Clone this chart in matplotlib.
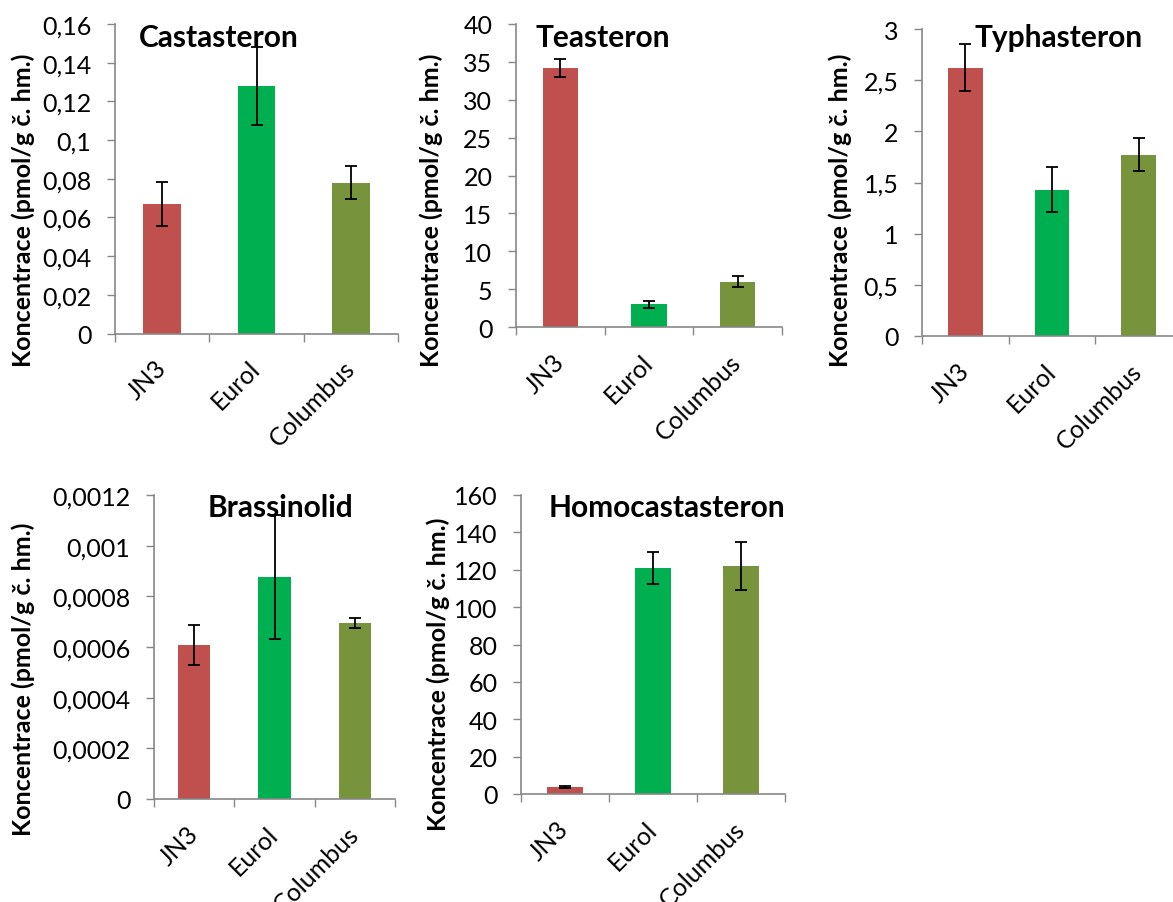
import numpy as np
import matplotlib
matplotlib.use("Agg")
import matplotlib.pyplot as plt
from matplotlib.ticker import FuncFormatter, MultipleLocator, FixedLocator

plt.rcParams['font.family'] = ['Lato', 'DejaVu Sans']

W, H = 1173, 903

cultivars = ["JN3", "Eurol", "Columbus"]
bar_colors = ["#C0504D", "#00B050", "#77933C"]
ylabel = "Koncentrace (pmol/g č. hm.)"

castasteron = [0.067, 0.128, 0.078]
castasteron_err = [0.0115, 0.020, 0.0085]
teasteron = [34.2, 3.0, 6.0]
teasteron_err = [1.2, 0.45, 0.7]
typhasteron = [2.62, 1.43, 1.77]
typhasteron_err = [0.23, 0.22, 0.16]
brassinolid = [0.000608, 0.000877, 0.000695]
brassinolid_err = [0.00008, 0.000245, 0.00002]
homocastasteron = [3.8, 121.0, 122.0]
homocastasteron_err = [0.5, 8.7, 13.0]

# name, values, errors, ymax, ystep
panels = [
    ("Castasteron", castasteron, castasteron_err, 0.16, 0.02),
    ("Teasteron", teasteron, teasteron_err, 40, 5),
    ("Typhasteron", typhasteron, typhasteron_err, 3, 0.5),
    ("Brassinolid", brassinolid, brassinolid_err, 0.0012, 0.0002),
    ("Homocastasteron", homocastasteron, homocastasteron_err, 160, 20),
]

# pixel layout: axes (left, top, right, bottom), title (x center, baseline), ylabel (right edge x, center y)
layout = [
    ((115, 25, 398, 334.5), (219, 47), (35, 210)),
    ((516, 25, 782, 328), (603, 47), (443, 210)),
    ((922, 30, 1182, 337), (1059, 47), (852, 210)),
    ((154, 496, 395, 800), (280, 517), (35, 679.5)),
    ((521, 496, 785, 795), (667, 517), (450, 674.5)),
]

axis_grey = "#878787"


def comma_fmt(v, pos):
    return ("%g" % v).replace(".", ",")


fig = plt.figure(figsize=(W / 100, H / 100), dpi=100)

for (name, vals, errs, ymax, ystep), (box, title_pos, lab_pos) in zip(panels, layout):
    x0, y0, x1, y1 = box
    ax = fig.add_axes([x0 / W, 1 - y1 / H, (x1 - x0) / W, (y1 - y0) / H])
    x = np.arange(len(cultivars))
    ax.bar(x, vals, width=0.4, color=bar_colors, zorder=2)
    ax.errorbar(x, vals, yerr=errs, fmt="none", ecolor="black",
                elinewidth=1.3, capsize=4.5, capthick=1.3, zorder=3)
    ax.set_xlim(-0.5, len(cultivars) - 0.5)
    ax.set_ylim(0, ymax)
    ax.yaxis.set_major_locator(MultipleLocator(ystep))
    ax.yaxis.set_major_formatter(FuncFormatter(comma_fmt))

    ax.set_xticks(x)
    ax.set_xticklabels(cultivars, rotation=45, ha="right", va="center",
                       rotation_mode="anchor", fontsize=18)
    ax.xaxis.set_minor_locator(FixedLocator(np.arange(-0.5, len(cultivars), 1.0)))
    ax.tick_params(axis="x", which="major", length=0, pad=22)
    ax.tick_params(axis="x", which="minor", length=6, width=1, color=axis_grey)
    ax.tick_params(axis="y", length=6, width=1, color=axis_grey, pad=11, labelsize=18)

    for side in ("top", "right"):
        ax.spines[side].set_visible(False)
    for side in ("left", "bottom"):
        ax.spines[side].set_color(axis_grey)
        ax.spines[side].set_linewidth(1.2)

    ax.set_ylabel(ylabel, fontsize=18, fontweight="bold")
    lx = (lab_pos[0] - x0) / (x1 - x0)
    ly = (y1 - lab_pos[1]) / (y1 - y0)
    ax.yaxis.set_label_coords(lx, ly)

    fig.text(title_pos[0] / W, 1 - title_pos[1] / H, name, ha="center",
             va="baseline", fontsize=21.5, fontweight="bold", zorder=1)

fig.savefig("out.png", dpi=100)
